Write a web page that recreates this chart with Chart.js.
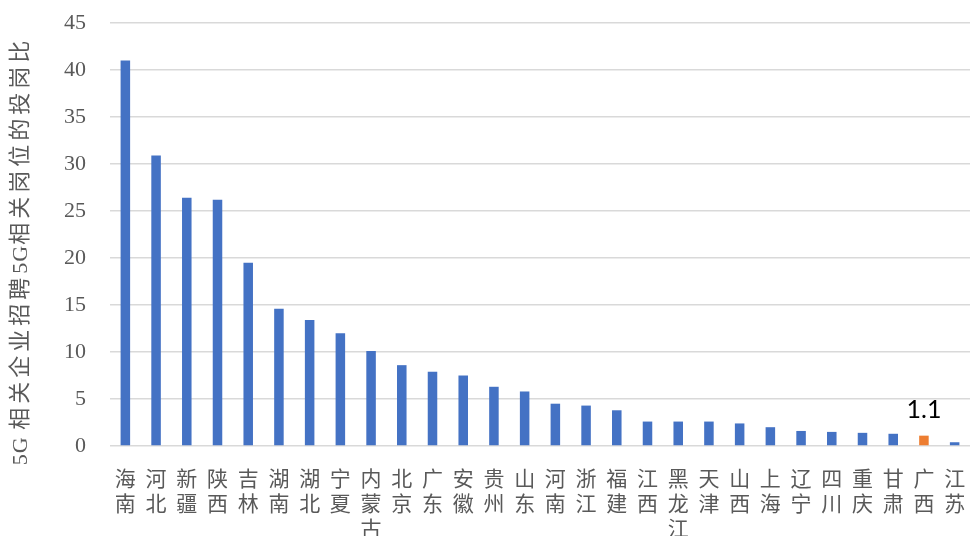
<!DOCTYPE html>
<html>
<head>
<meta charset="utf-8">
<script src="https://cdn.jsdelivr.net/npm/chart.js@4/dist/chart.umd.min.js"></script>
<style>
  html, body { margin: 0; padding: 0; background: #ffffff; }
  canvas { display: block; }
</style>
</head>
<body>
<canvas id="chart" width="970" height="536"></canvas>
<script>
// Provinces, ordered by ratio
const provinces = ['海南','河北','新疆','陕西','吉林','湖南','湖北','宁夏','内蒙古','北京','广东','安徽','贵州','山东','河南','浙江','福建','江西','黑龙江','天津','山西','上海','辽宁','四川','重庆','甘肃','广西','江苏'];
// Applicant-per-post ratio for 5G-related posts
const ratios = [41.0, 30.9, 26.4, 26.2, 19.5, 14.6, 13.4, 12.0, 10.1, 8.6, 7.9, 7.5, 6.3, 5.8, 4.5, 4.3, 3.8, 2.6, 2.6, 2.6, 2.4, 2.0, 1.6, 1.5, 1.4, 1.3, 1.1, 0.4];
// Highlighted province (labelled with its value)
const highlighted = ['广西'];
// Y-axis ticks
const yTicks = [0, 5, 10, 15, 20, 25, 30, 35, 40, 45];
const yTitle = '5G 相关企业招聘5G相关岗位的投岗比';

const BLUE = '#4472C4';
const ORANGE = '#ED7D31';
const GREY_TEXT = '#595959';

const barColors = provinces.map(p => highlighted.includes(p) ? ORANGE : BLUE);
// Each character on its own line
const stackedLabels = provinces.map(p => Array.from(p));

const valueLabelPlugin = {
  id: 'valueLabel',
  afterDatasetsDraw(chart) {
    const meta = chart.getDatasetMeta(0);
    const ctx = chart.ctx;
    ctx.save();
    ctx.fillStyle = '#000000';
    ctx.font = '25px Lato, "Liberation Sans", sans-serif';
    ctx.textAlign = 'center';
    ctx.textBaseline = 'alphabetic';
    provinces.forEach((p, i) => {
      if (!highlighted.includes(p)) return;
      const el = meta.data[i];
      ctx.fillText(ratios[i].toFixed(1), el.x, el.y - 18);
    });
    ctx.restore();
  }
};

// Rotated axis title, with wider tracking between the Chinese characters
const yTitlePlugin = {
  id: 'yTitle',
  afterDraw(chart) {
    const ctx = chart.ctx;
    ctx.save();
    ctx.translate(21, 251);
    ctx.rotate(-Math.PI / 2);
    ctx.fillStyle = GREY_TEXT;
    ctx.font = '22px "Liberation Serif", "Noto Sans CJK SC", serif';
    ctx.textAlign = 'left';
    ctx.textBaseline = 'middle';
    const chars = Array.from(yTitle);
    const gap = c => (/[\u4e00-\u9fff]/.test(c) ? 4 : 1);
    const total = chars.reduce((s, c) => s + ctx.measureText(c).width + gap(c), 0);
    let x = -total / 2;
    chars.forEach(c => {
      ctx.fillText(c, x, 0);
      x += ctx.measureText(c).width + gap(c);
    });
    ctx.restore();
  }
};

new Chart(document.getElementById('chart'), {
  type: 'bar',
  data: {
    labels: stackedLabels,
    datasets: [{
      data: ratios,
      backgroundColor: barColors,
      borderWidth: 0,
      barPercentage: 0.31,
      categoryPercentage: 1.0
    }]
  },
  options: {
    responsive: false,
    animation: false,
    layout: { padding: { top: 23, right: 0, bottom: 0, left: 0 } },
    plugins: {
      legend: { display: false },
      tooltip: { enabled: false }
    },
    scales: {
      x: {
        grid: { display: false },
        border: { display: false },
        ticks: {
          autoSkip: false,
          maxRotation: 0,
          minRotation: 0,
          padding: 12,
          color: GREY_TEXT,
          font: { family: '"Noto Sans CJK SC", sans-serif', size: 21, lineHeight: '25px' }
        },
        afterFit(scale) {
          scale.height = 90;
          scale.paddingLeft = 0;
          scale.paddingRight = 0;
        }
      },
      y: {
        min: 0,
        max: 45,
        afterBuildTicks(scale) {
          scale.ticks = yTicks.map(v => ({ value: v }));
        },
        grid: { color: '#d9d9d9', lineWidth: 1.5, drawTicks: false },
        border: { display: false },
        ticks: {
          padding: 24,
          color: GREY_TEXT,
          font: { family: '"Liberation Serif", serif', size: 22 }
        },
        afterFit(scale) {
          scale.width = 110;
          scale.paddingTop = 0;
          scale.paddingBottom = 0;
        }
      }
    }
  },
  plugins: [valueLabelPlugin, yTitlePlugin]
});
</script>
</body>
</html>
